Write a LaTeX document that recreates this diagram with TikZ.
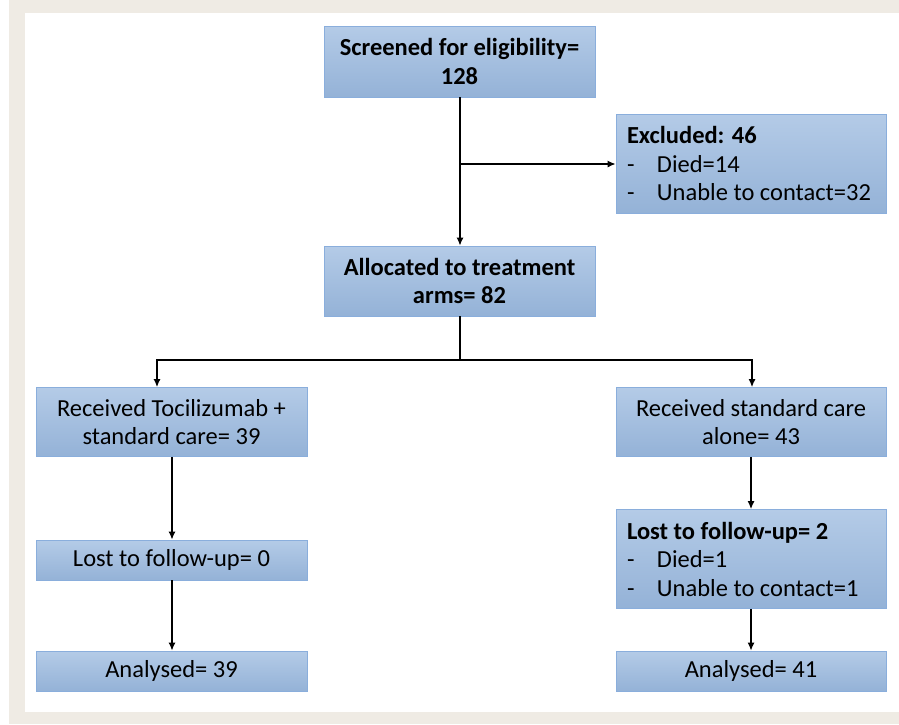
\documentclass[tikz,border=0pt]{standalone}
\usepackage{fontspec}
\setmainfont{Carlito}
\usetikzlibrary{arrows, arrows.meta, positioning, calc}
\definecolor{paper}{HTML}{EFEBE4}
\definecolor{boxtop}{HTML}{B4CBE7}
\definecolor{boxbot}{HTML}{94B2D7}
\definecolor{boxline}{HTML}{8AAEDC}
\newcommand\itm[1]{\makebox[30pt][l]{-}#1}
\begin{document}
\begin{tikzpicture}[x=1pt, y=-1pt, >={Latex[length=8pt,width=7pt]},
        bx/.style={draw=boxline, line width=0.8pt, top color=boxtop, bottom color=boxbot,
            inner sep=0, minimum width=271pt, align=center,
            font=\fontsize{24.5}{28.5}\selectfont},
        lst/.style={bx, minimum width=270pt, text width=248pt, inner xsep=11pt, align=flush left},
        ln/.style={line width=1.3pt}]
    \useasboundingbox (0,0) rectangle (899,724);
    % frame round the page
    \fill[paper] (9,0) rectangle (899,13);
    \fill[paper] (9,0) rectangle (25,724);
    \fill[paper] (9,712) rectangle (899,724);

    \node(screen)[bx, minimum height=71pt] at (459.5,61.5) {\textbf{Screened for eligibility=}\\\textbf{128}};
    \node(excl)[lst, minimum height=99pt] at (751,163.5) {\textbf{Excluded: 46}\\\itm{Died=14}\\\itm{Unable to contact=32}};
    \node(alloc)[bx, minimum height=70pt] at (459.5,281) {\textbf{Allocated to treatment}\\\textbf{arms= 82}};
    \node(recvL)[bx, minimum height=69pt] at (171.5,422) {Received Tocilizumab +\\standard care= 39};
    \node(recvR)[bx, minimum width=270pt, minimum height=69pt] at (751,422) {Received standard care\\alone= 43};
    \node(lostL)[bx, minimum height=40pt] at (171.5,560) {Lost to follow-up= 0};
    \node(lostR)[lst, minimum height=99pt] at (751,559) {\textbf{Lost to follow-up= 2}\\\itm{Died=1}\\\itm{Unable to contact=1}};
    \node(anaL)[bx, minimum height=40pt] at (171.5,671) {Analysed= 39};
    \node(anaR)[bx, minimum width=270pt, minimum height=40pt] at (751,671) {Analysed= 41};

    \coordinate(s1) at (460,164);
    \coordinate(s2) at (460,360);
    \draw[ln,->] ([xshift=0.5pt]screen.south) -- ([xshift=0.5pt]alloc.north);
    \draw[ln,->] (s1) -- (s1 -| excl.west);
    \draw[ln] ([xshift=0.5pt]alloc.south) -- (s2);
    \draw[ln,->] (s2) -| ([xshift=-14.5pt]recvL.north);
    \draw[ln,->] (s2) -| ([xshift=1pt]recvR.north);
    \draw[ln,->] ([xshift=0.5pt]recvL.south) -- ([xshift=0.5pt]lostL.north);
    \draw[ln,->] ([xshift=0.5pt]lostL.south) -- ([xshift=0.5pt]anaL.north);
    \draw[ln,->] (recvR) -- (lostR);
    \draw[ln,->] (lostR) -- (anaR);
\end{tikzpicture}
\end{document}
